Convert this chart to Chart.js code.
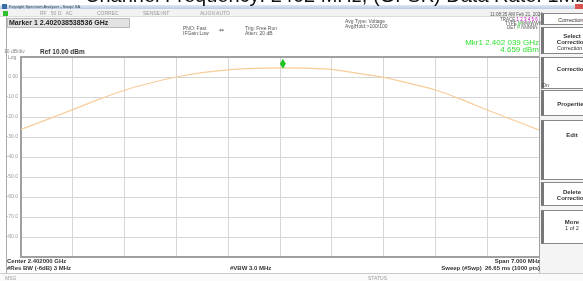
<!DOCTYPE html>
<html>
<head>
<meta charset="utf-8">
<script src="https://cdn.jsdelivr.net/npm/chart.js@4.4.1/dist/chart.umd.min.js"></script>
<style>
  html, body { margin: 0; padding: 0; background: #fff; }
  body { width: 583px; height: 281px; overflow: hidden; position: relative; font-family: "Liberation Sans", Arial, sans-serif; }
  #chart { position: absolute; left: 0; top: 0; }
  .t { position: absolute; white-space: nowrap; color: #555; font-size: 5px; line-height: 6px; }
  .b { font-weight: bold; }
  #title { position: absolute; left: 85px; top: -15px; font-size: 20px; line-height: 20px; color: #111; white-space: nowrap; }
  #winbar { position: absolute; left: 0; top: 5px; width: 583px; height: 4px; background: linear-gradient(#dfe8f5, #b8cbe4); }
  #toolbar { position: absolute; left: 0; top: 9px; width: 583px; height: 7px; background: #f2f2f2; border-bottom: 1px solid #ddd; }
  #frame { position: absolute; left: 6px; top: 17px; width: 534px; height: 256px; border-left: 1px solid #aaa; }
  #mkrbox { position: absolute; left: 7px; top: 18px; width: 121px; height: 8px; background: #e2e2e2; border: 1px solid #bbb; }
  .btn { position: absolute; left: 541px; width: 60px; background: #fff; border: 1px solid #888; border-left: 3px solid #777; box-sizing: border-box; text-align: center; font-size: 5.5px; line-height: 6px; color: #333; }
  .btn .b { font-size: 6px; }
  #panel { position: absolute; left: 539px; top: 12px; width: 44px; height: 263px; background: #f4f4f4; border-left: 1px solid #bbb; }
  #status { position: absolute; left: 0; top: 273px; width: 583px; height: 8px; border-top: 1px solid #ccc; background: #fafafa; }
</style>
</head>
<body>
<div id="winbar"></div>
<div id="toolbar"></div>
<div id="frame"></div>
<div id="panel"></div>
<div id="status"></div>
<canvas id="chart" width="583" height="281"></canvas>

<div id="title">Channel Frequency: 2402 MHz, (GFSK) Data Rate: 1Mbps</div>

<div class="t" style="left:2px;top:4px;width:5px;height:5px;background:#3a6ea5;"></div>
<div class="t" style="left:9px;top:4px;font-size:4px;line-height:5px;color:#345;">Keysight Spectrum Analyzer - Swept SA</div>
<div class="t" style="left:3px;top:11px;width:5px;height:5px;background:#2ec02e;"></div>
<div class="t" style="left:40px;top:10px;color:#999;">RF &nbsp; 50 Ω &nbsp; AC</div>
<div class="t" style="left:97px;top:10px;color:#999;">CORREC</div>
<div class="t" style="left:143px;top:10px;color:#999;">SENSE:INT</div>
<div class="t" style="left:200px;top:10px;color:#999;">ALIGN AUTO</div>
<div class="t" style="left:575px;top:4px;width:8px;height:5px;background:#d9534f;"></div>

<div id="mkrbox"></div>
<div class="t b" style="left:9px;top:19px;font-size:7px;line-height:7px;color:#222;">Marker 1 2.402038538536 GHz</div>

<div class="t" style="left:183px;top:25px;">PNO: Fast</div>
<div class="t" style="left:183px;top:30px;">IFGain:Low</div>
<div class="t" style="left:219px;top:27px;font-size:6px;">&#8621;</div>
<div class="t" style="left:245px;top:25px;">Trig: Free Run</div>
<div class="t" style="left:245px;top:30px;">Atten: 20 dB</div>
<div class="t" style="left:345px;top:18px;">Avg Type: Voltage</div>
<div class="t" style="left:345px;top:23px;">Avg|Hold:&gt;100/100</div>

<div class="t" style="left:490px;top:12px;font-size:4.5px;">11:08:35 AM Feb 21, 2024</div>
<div class="t" style="left:500px;top:17px;font-size:4.5px;">TRACE <span style="color:#c0c">1 2 3 4 5 6</span></div>
<div class="t" style="left:505px;top:21px;font-size:4.5px;">TYPE <span style="color:#2a2">M</span>WWWWW</div>
<div class="t" style="left:507px;top:25px;font-size:4.5px;">DET <span style="color:#2a2">P</span> NNNNN</div>

<div class="t" style="left:460px;top:39px;width:79px;text-align:right;font-size:8px;line-height:8px;color:#33e033;">Mkr1 2.402 039 GHz</div>
<div class="t" style="left:460px;top:46px;width:79px;text-align:right;font-size:8px;line-height:8px;color:#33e033;">4.659 dBm</div>

<div class="t" style="left:4px;top:48px;color:#888;">10 dB/div</div>
<div class="t b" style="left:40px;top:48px;font-size:6.5px;line-height:7px;color:#333;">Ref 10.00 dBm</div>
<div class="t" style="left:8px;top:54px;color:#888;">Log</div>

<div class="t b" style="left:7px;top:258px;font-size:6px;color:#333;">Center 2.402000 GHz</div>
<div class="t b" style="left:7px;top:265px;font-size:6px;color:#333;">#Res BW (-6dB) 3 MHz</div>
<div class="t b" style="left:230px;top:265px;font-size:6px;color:#333;">#VBW 3.0 MHz</div>
<div class="t b" style="left:400px;top:258px;width:140px;text-align:right;font-size:6px;color:#333;">Span 7.000 MHz</div>
<div class="t b" style="left:400px;top:265px;width:140px;text-align:right;font-size:6px;color:#333;">Sweep (#Swp) &nbsp;26.65 ms (1000 pts)</div>
<div class="t" style="left:5px;top:275px;color:#999;">MSG</div>
<div class="t" style="left:368px;top:275px;color:#999;">STATUS</div>

<div class="btn" style="top:13px;height:12px;padding-top:3px;">Corrections</div>
<div class="btn" style="top:27px;height:27px;padding-top:5px;"><span class="b">Select<br>Correction</span><br>Correction 1</div>
<div class="btn" style="top:57px;height:32px;padding-top:8px;"><span class="b">Correction</span></div>
<div class="t" style="left:542px;top:82px;color:#333;">On</div>
<div class="btn" style="top:90px;height:26px;padding-top:10px;"><span class="b">Properties</span></div>
<div class="btn" style="top:120px;height:60px;padding-top:11px;"><span class="b">Edit</span></div>
<div class="btn" style="top:182px;height:24px;padding-top:6px;"><span class="b">Delete<br>Correction</span></div>
<div class="btn" style="top:210px;height:34px;padding-top:8px;"><span class="b">More</span><br>1 of 2</div>

<script>
// trace: frequency (MHz) and level (dBm)
const freqs = [2398.5, 2398.85, 2399.2, 2399.55, 2399.9, 2400.25, 2400.6, 2400.95, 2401.3, 2401.65, 2402.0,
               2402.35, 2402.7, 2403.05, 2403.4, 2403.75, 2404.1, 2404.45, 2404.8, 2405.15, 2405.5];
const levels = [-26.2, -21.3, -16.3, -11.2, -6.6, -3.0, 0.0, 2.2, 3.6, 4.3, 4.6,
                4.4, 3.8, 1.8, -0.2, -3.2, -6.5, -11.2, -16.5, -21.5, -26.5];

// axis ticks (10 divisions each)
const xTicks = [2398.5, 2399.2, 2399.9, 2400.6, 2401.3, 2402.0, 2402.7, 2403.4, 2404.1, 2404.8, 2405.5];
const yTicks = [10, 0, -10, -20, -30, -40, -50, -60, -70, -80, -90];

// marker 1
const markerFreq = 2402.039;
const markerLevel = 4.659;

const tracePoints = freqs.map((f, i) => ({ x: f, y: levels[i] }));

// diamond marker drawn just above the trace point
const markerPlugin = {
    id: 'markerPlugin',
    afterDatasetsDraw(chart) {
        const ctx = chart.ctx;
        const px = chart.scales.x.getPixelForValue(markerFreq);
        const py = chart.scales.y.getPixelForValue(markerLevel) - 4;
        ctx.save();
        ctx.fillStyle = '#22c322';
        ctx.beginPath();
        ctx.moveTo(px, py - 5);
        ctx.lineTo(px + 3, py);
        ctx.lineTo(px, py + 5);
        ctx.lineTo(px - 3, py);
        ctx.closePath();
        ctx.fill();
        ctx.restore();
    }
};

const edgeColor = (first, last) => c => (c.index === first || c.index === last) ? '#a0a0a0' : '#d6d6d6';

new Chart(document.getElementById('chart').getContext('2d'), {
    type: 'line',
    data: {
        datasets: [{
            data: tracePoints,
            borderColor: '#f8cd9a',
            borderWidth: 1.2,
            pointRadius: 0,
            cubicInterpolationMode: 'monotone',
            fill: false
        }]
    },
    options: {
        responsive: false,
        animation: false,
        layout: { padding: { left: 0, top: 57, right: 44, bottom: 24 } },
        plugins: { legend: { display: false }, tooltip: { enabled: false } },
        scales: {
            x: {
                type: 'linear',
                min: xTicks[0],
                max: xTicks[xTicks.length - 1],
                afterBuildTicks: s => { s.ticks = xTicks.map(v => ({ value: v })); },
                afterFit: s => { s.height = 0; },
                ticks: { display: false },
                grid: { drawTicks: false, color: edgeColor(0, xTicks.length - 1), lineWidth: 1 },
                border: { display: true, color: '#a0a0a0', width: 2 }
            },
            y: {
                min: -90,
                max: 10,
                afterBuildTicks: s => { s.ticks = yTicks.map(v => ({ value: v })); },
                afterFit: s => { s.width = 21; },
                ticks: {
                    padding: 3,
                    color: '#999',
                    font: { size: 5, family: 'Liberation Sans' },
                    callback: v => (v > 0 || v < -80) ? '' : (v === 0 ? '0.00' : v.toFixed(1))
                },
                grid: { drawTicks: false, color: c => (c.tick.value === 10 || c.tick.value === -90) ? '#a0a0a0' : '#d6d6d6', lineWidth: c => c.tick.value === 10 ? 2 : 1 },
                border: { display: true, color: '#a0a0a0', width: 2 }
            }
        }
    },
    plugins: [markerPlugin]
});
</script>
</body>
</html>
